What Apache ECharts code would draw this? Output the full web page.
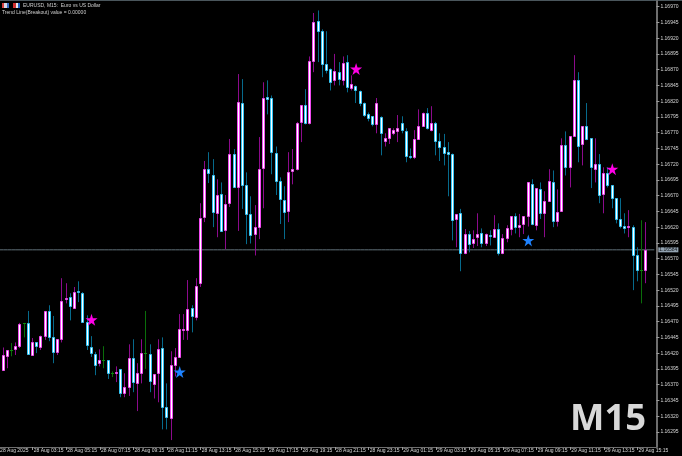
<!DOCTYPE html>
<html><head><meta charset="utf-8">
<style>html,body{margin:0;padding:0;background:#000}#c{width:682px;height:456px}</style>
<script src="https://cdn.jsdelivr.net/npm/echarts@6/dist/echarts.min.js"></script>
</head><body><div id="c"></div>
<script>
const opens=[1.16375,1.16393,1.16415,1.16425,1.16426,1.16431,1.16468,1.16468,1.16417,1.16437,1.16429,1.16447,1.16487,1.16445,1.16422,1.16442,1.16506,1.16509,1.16491,1.16518,1.16515,1.16469,1.16429,1.16418,1.16404,1.16409,1.16409,1.16388,1.16388,1.16395,1.16356,1.16366,1.16412,1.16372,1.16388,1.16420,1.16418,1.16371,1.16388,1.16428,1.16334,1.16317,1.16401,1.16414,1.16456,1.16456,1.16491,1.16477,1.16531,1.16636,1.16712,1.16702,1.16642,1.16672,1.16615,1.16658,1.16736,1.16683,1.16817,1.16687,1.16641,1.16609,1.16620,1.16714,1.16826,1.16825,1.16737,1.16694,1.16663,1.16645,1.16709,1.16712,1.16787,1.16814,1.16785,1.16883,1.16947,1.16931,1.16879,1.16871,1.16853,1.16866,1.16853,1.16882,1.16841,1.16844,1.16836,1.16817,1.16799,1.16796,1.16783,1.16795,1.16756,1.16761,1.16769,1.16772,1.16785,1.16772,1.16733,1.16731,1.16760,1.16780,1.16801,1.16775,1.16785,1.16756,1.16747,1.16739,1.16736,1.16633,1.16642,1.16579,1.16609,1.16595,1.16604,1.16610,1.16595,1.16607,1.16604,1.16617,1.16579,1.16602,1.16617,1.16637,1.16620,1.16625,1.16637,1.16688,1.16623,1.16680,1.16642,1.16661,1.16691,1.16629,1.16645,1.16750,1.16715,1.16764,1.16853,1.16752,1.16780,1.16761,1.16712,1.16720,1.16672,1.16706,1.16687,1.16666,1.16633,1.16622,1.16620,1.16620,1.16575,1.16552,1.16552];
const closes=[1.16393,1.16417,1.16425,1.16425,1.16431,1.16466,1.16468,1.16418,1.16437,1.16431,1.16447,1.16487,1.16445,1.16422,1.16442,1.16502,1.16507,1.16495,1.16517,1.16517,1.16469,1.16433,1.16420,1.16401,1.16409,1.16409,1.16388,1.16388,1.16390,1.16356,1.16366,1.16412,1.16374,1.16388,1.16420,1.16420,1.16375,1.16387,1.16426,1.16334,1.16318,1.16401,1.16414,1.16458,1.16458,1.16490,1.16479,1.16526,1.16634,1.16712,1.16706,1.16644,1.16671,1.16614,1.16657,1.16736,1.16683,1.16818,1.16687,1.16641,1.16607,1.16620,1.16712,1.16825,1.16823,1.16739,1.16693,1.16664,1.16644,1.16707,1.16712,1.16785,1.16814,1.16785,1.16883,1.16945,1.16931,1.16879,1.16869,1.16850,1.16868,1.16855,1.16880,1.16842,1.16847,1.16837,1.16817,1.16798,1.16793,1.16783,1.16817,1.16769,1.16761,1.16777,1.16775,1.16777,1.16775,1.16733,1.16731,1.16760,1.16780,1.16802,1.16777,1.16785,1.16756,1.16747,1.16737,1.16736,1.16631,1.16641,1.16579,1.16609,1.16593,1.16601,1.16609,1.16595,1.16609,1.16606,1.16617,1.16579,1.16602,1.16618,1.16637,1.16620,1.16623,1.16637,1.16691,1.16625,1.16682,1.16642,1.16661,1.16693,1.16629,1.16644,1.16750,1.16715,1.16764,1.16853,1.16749,1.16780,1.16760,1.16715,1.16720,1.16671,1.16706,1.16687,1.16667,1.16633,1.16622,1.16618,1.16622,1.16575,1.16552,1.16552,1.16583];
const lows=[1.16374,1.16393,1.16396,1.16415,1.16417,1.16428,1.16445,1.16418,1.16417,1.16420,1.16425,1.16441,1.16439,1.16404,1.16417,1.16437,1.16499,1.16472,1.16490,1.16501,1.16468,1.16425,1.16414,1.16385,1.16399,1.16396,1.16379,1.16382,1.16374,1.16350,1.16350,1.16352,1.16358,1.16328,1.16372,1.16395,1.16358,1.16348,1.16342,1.16299,1.16299,1.16282,1.16383,1.16414,1.16441,1.16441,1.16453,1.16472,1.16525,1.16628,1.16690,1.16620,1.16604,1.16614,1.16585,1.16652,1.16682,1.16614,1.16649,1.16593,1.16594,1.16575,1.16601,1.16650,1.16799,1.16704,1.16671,1.16625,1.16601,1.16628,1.16688,1.16710,1.16755,1.16783,1.16783,1.16866,1.16882,1.16858,1.16864,1.16837,1.16845,1.16845,1.16845,1.16834,1.16837,1.16817,1.16812,1.16795,1.16788,1.16780,1.16769,1.16734,1.16748,1.16752,1.16766,1.16755,1.16769,1.16723,1.16728,1.16728,1.16760,1.16780,1.16775,1.16772,1.16734,1.16725,1.16718,1.16669,1.16599,1.16588,1.16550,1.16577,1.16580,1.16587,1.16590,1.16588,1.16590,1.16591,1.16604,1.16575,1.16577,1.16596,1.16607,1.16610,1.16604,1.16609,1.16621,1.16623,1.16615,1.16633,1.16604,1.16661,1.16620,1.16621,1.16645,1.16702,1.16683,1.16764,1.16723,1.16718,1.16758,1.16682,1.16691,1.16658,1.16642,1.16683,1.16650,1.16626,1.16618,1.16610,1.16604,1.16520,1.16534,1.16499,1.16531];
const highs=[1.16393,1.16429,1.16425,1.16436,1.16437,1.16468,1.16468,1.16487,1.16444,1.16437,1.16448,1.16487,1.16496,1.16479,1.16442,1.16539,1.16531,1.16515,1.16525,1.16534,1.16517,1.16480,1.16447,1.16422,1.16426,1.16431,1.16409,1.16391,1.16399,1.16395,1.16388,1.16434,1.16442,1.16404,1.16442,1.16487,1.16434,1.16387,1.16442,1.16445,1.16372,1.16423,1.16428,1.16482,1.16482,1.16536,1.16496,1.16539,1.16658,1.16725,1.16739,1.16728,1.16696,1.16691,1.16671,1.16760,1.16744,1.16863,1.16855,1.16707,1.16669,1.16655,1.16763,1.16850,1.16853,1.16829,1.16748,1.16699,1.16685,1.16739,1.16744,1.16787,1.16814,1.16839,1.16891,1.16960,1.16964,1.16934,1.16931,1.16872,1.16895,1.16882,1.16891,1.16893,1.16861,1.16845,1.16837,1.16818,1.16802,1.16796,1.16825,1.16796,1.16769,1.16777,1.16777,1.16798,1.16796,1.16777,1.16745,1.16774,1.16807,1.16802,1.16809,1.16812,1.16787,1.16769,1.16768,1.16755,1.16737,1.16641,1.16649,1.16617,1.16614,1.16615,1.16642,1.16618,1.16610,1.16615,1.16639,1.16626,1.16609,1.16623,1.16637,1.16642,1.16641,1.16637,1.16691,1.16696,1.16682,1.16691,1.16677,1.16712,1.16710,1.16680,1.16761,1.16772,1.16764,1.16893,1.16866,1.16780,1.16817,1.16761,1.16761,1.16736,1.16715,1.16715,1.16687,1.16666,1.16666,1.16642,1.16647,1.16623,1.16588,1.16631,1.16628];
const starUp=[[22,1.16473],[85,1.16871],[146,1.16712]];
const starDown=[[43,1.16390],[126,1.16599]];
const currentPrice=1.16584;
const yTicks=[1.16295,1.16320,1.16345,1.16370,1.16395,1.16420,1.16445,1.16470,1.16495,1.16520,1.16545,1.16570,1.16595,1.16620,1.16645,1.16670,1.16695,1.16720,1.16745,1.16770,1.16795,1.16820,1.16845,1.16870,1.16895,1.16920,1.16945,1.16970];
const xTicks=['28 Aug 2025','28 Aug 03:15','28 Aug 05:15','28 Aug 07:15','28 Aug 09:15','28 Aug 11:15','28 Aug 13:15','28 Aug 15:15','28 Aug 17:15','28 Aug 19:15','28 Aug 21:15','28 Aug 23:15','29 Aug 01:15','29 Aug 03:15','29 Aug 05:15','29 Aug 07:15','29 Aug 09:15','29 Aug 11:15','29 Aug 13:15','29 Aug 15:15'];
const barCount=157;

const categories=[];for(let i=0;i<barCount;i++)categories.push(i%8===0?(xTicks[i/8]||''):String(i));
const FONT='"Liberation Sans", Arial, sans-serif';
const WICK={up:'#8c0a8c',down:'#066a8c',flat:'#0a6e0a'};
const EDGE={up:'#f04af0',down:'#33c4f5',flat:'#0a8a0a'};
const dir=i=>closes[i]>opens[i]?'up':closes[i]<opens[i]?'down':'flat';
const wickData=opens.map((o,i)=>{const c=WICK[dir(i)];return{value:[o,closes[i],lows[i],highs[i]],itemStyle:{color:c,color0:c,borderColor:c,borderColor0:c,borderColorDoji:c}}});
const bodyData=opens.map((o,i)=>[i,o,closes[i]]);
const renderBody=(params,api)=>{
  const i=api.value(0),o=api.value(1),c=api.value(2),d=dir(i);
  const p1=api.coord([i,Math.max(o,c)]),p2=api.coord([i,Math.min(o,c)]);
  /* same half-pixel column that the candlestick wick falls on */
  const cx=Math.round(p1[0]*2)%2?Math.round(p1[0]*2)/2:(Math.round(p1[0]*2)-1)/2;
  if(d==='flat')return{type:'rect',shape:{x:cx-1.5,y:Math.round(p1[1]),width:3,height:1},style:{fill:EDGE.flat}};
  const y1=Math.round(p1[1])+.5,y2=Math.max(Math.round(p2[1])+.5,y1+1);
  return{type:'rect',shape:{x:cx-1,y:y1,width:2,height:y2-y1},style:{fill:'#ffffff',stroke:EDGE[d],lineWidth:1}};
};
const STAR='path://M50 0 L61.8 36 L100 36 L69 58.5 L80.9 95 L50 72.5 L19.1 95 L31 58.5 L0 36 L38.2 36 Z';

const chart=echarts.init(document.getElementById('c'),null,{renderer:'canvas'});
chart.setOption({
 animation:false,backgroundColor:'#000000',
 grid:{left:-3,top:1,width:659.4,height:446,outerBoundsMode:'none'},
 xAxis:{type:'category',data:categories,boundaryGap:true,
  axisLine:{show:true,lineStyle:{color:'#6e6e6e',width:1}},
  axisTick:{show:true,alignWithLabel:true,length:3,interval:i=>i%8===0,lineStyle:{color:'#9a9a9a',width:1}},
  axisLabel:{show:true,interval:i=>i%8===0,formatter:(v,i)=>xTicks[i/8]||'',align:'left',margin:1,color:'#d8d8d8',fontSize:5,fontFamily:FONT,padding:[0,0,0,1],hideOverlap:false},
  splitLine:{show:false}},
 yAxis:{type:'value',position:'right',min:1.16271,max:1.16979,scale:true,
  axisLine:{show:true,lineStyle:{color:'#6e6e6e',width:2}},
  axisTick:{show:true,length:3,customValues:yTicks,lineStyle:{color:'#9a9a9a',width:1}},
  axisLabel:{show:true,customValues:yTicks,formatter:v=>v.toFixed(5),margin:4,color:'#d8d8d8',fontSize:5,fontFamily:FONT},
  splitLine:{show:false}},
 series:[
  {type:'line',name:'current price',data:categories.map(()=>currentPrice),showSymbol:false,silent:true,clip:false,z:1,
   lineStyle:{color:'#5f6f78',width:1},
   endLabel:{show:true,distance:4,formatter:()=>currentPrice.toFixed(5),fontSize:5,fontFamily:FONT,color:'#101418',backgroundColor:'#93a3b1',padding:[0,1,0,1]}},
  {type:'candlestick',name:'EURUSD',data:wickData,barWidth:0.5,silent:true,itemStyle:{borderWidth:1},z:2},
  {type:'custom',name:'bodies',data:bodyData,renderItem:renderBody,encode:{x:0,y:[1,2]},silent:true,z:3},
  {type:'scatter',name:'sell',data:starUp,symbol:STAR,symbolSize:12,itemStyle:{color:'#ff00e6',opacity:1},z:5},
  {type:'scatter',name:'buy',data:starDown,symbol:STAR,symbolSize:12,itemStyle:{color:'#1e82ff',opacity:1},z:5}
 ],
 graphic:[
  {type:'rect',shape:{x:0,y:0,width:682,height:1},style:{fill:'#4a565c'},silent:true},
  {type:'rect',shape:{x:2,y:3,width:7,height:5},style:{fill:'#d8d8e8'},silent:true},
  {type:'rect',shape:{x:2,y:3,width:2,height:5},style:{fill:'#d84040'},silent:true},
  {type:'rect',shape:{x:7,y:3,width:2,height:5},style:{fill:'#3a6ec8'},silent:true},
  {type:'rect',shape:{x:13,y:3,width:7,height:5},style:{fill:'#e8e8e8'},silent:true},
  {type:'rect',shape:{x:13,y:3,width:3,height:5},style:{fill:'#d03030'},silent:true},
  {type:'rect',shape:{x:18,y:3,width:2,height:5},style:{fill:'#2060c0'},silent:true},
  {type:'text',style:{x:23,y:3.5,text:'EURUSD, M15:  Euro vs US Dollar',fill:'#cfcfcf',font:'5px '+FONT},silent:true},
  {type:'text',style:{x:2,y:10.5,text:'Trend Line(Breakout) value = 0.00000',fill:'#cfcfcf',font:'5px '+FONT},silent:true},
  {type:'text',style:{x:570,y:401.5,text:'M15',fill:'#d8d8d8',font:'bold 36.5px "Open Sans", sans-serif'},silent:true}
 ]
});
</script></body></html>
